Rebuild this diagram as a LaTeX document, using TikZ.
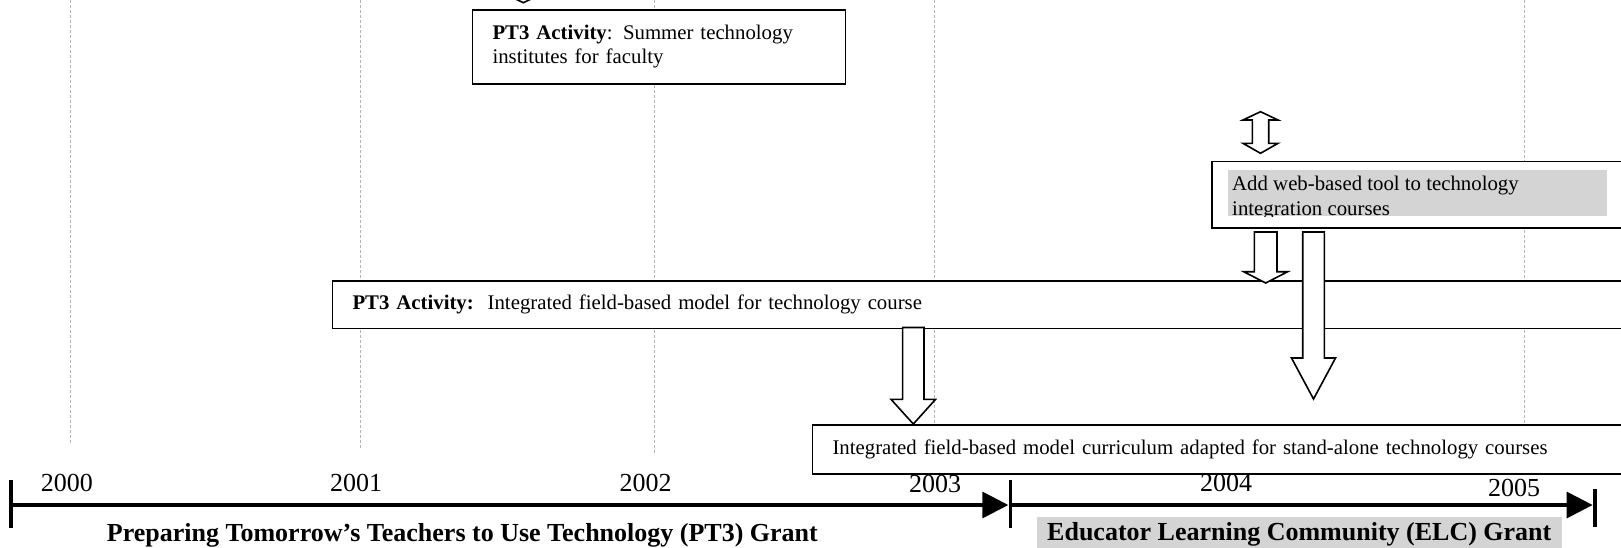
\documentclass[tikz,border=0pt]{standalone}
\usepackage{fontspec}
\setmainfont{Liberation Serif}
\usepackage{xcolor}
\usepackage{tikz}
\usetikzlibrary{arrows.meta,positioning,calc}

\colorlet{hilite}{black!17}
\tikzset{
  gridline/.style={gray!60, line width=0.9pt, dash pattern=on 3pt off 2pt},
  actbox/.style={draw, fill=white, line width=1.6pt, anchor=north west, align=left, inner xsep=20pt, font=\fontsize{20.8}{24}\selectfont},
  blockarrow/.style={draw, fill=white, line width=1.6pt, line join=miter},
  yearlbl/.style={anchor=base west, inner sep=0pt, font=\fontsize{26}{28}\selectfont},
  grantlbl/.style={anchor=base west, inner sep=0pt, font=\fontsize{26}{28}\selectfont\bfseries},
  axis/.style={line width=3.4pt, -{Triangle[length=26pt,width=26pt]}},
  tickbar/.style={line width=3.4pt},
}
% #1 top, #2 tip, #3 half shaft, #4 half head, #5 head length
\newcommand{\blockdown}[5]{%
  \draw[blockarrow] ($(#1)+(-#3,0)$) -- ($(#2)+(-#3,-#5)$) -- ($(#2)+(-#4,-#5)$) -- (#2)
    -- ($(#2)+(#4,-#5)$) -- ($(#2)+(#3,-#5)$) -- ($(#1)+(#3,0)$) -- cycle;}

\begin{document}
\begin{tikzpicture}[x=1pt,y=-1pt]
    \useasboundingbox (0,0) rectangle (1621,547);

    % Year grid
    \foreach \gx/\gy in {70/445, 360/450, 654/455, 934/424, 1524/423}
        \draw[gridline] (\gx,0) -- (\gx,\gy);

    % Activities
    \node[actbox, text width=333pt, minimum height=73.7pt] (summer) at (471.7,9.3)
        {\textbf{PT3 Activity}: Summer technology\\institutes for faculty};
    \node[actbox, minimum width=430pt, minimum height=66.6pt] (add) at (1211,160.7) {};
    \node[actbox, text width=1300pt, minimum height=47.5pt] (pt3field) at (331.7,280)
        {\textbf{PT3 Activity:}\ \ Integrated field-based model for technology course};
    \node[actbox, text width=820pt, minimum height=49.3pt] (adapted) at (811.7,424)
        {Integrated field-based model curriculum adapted for stand-alone technology courses};

    % Highlighted text of the web tool box
    \begin{scope}
        \clip (1228,170) rectangle (1607,216);
        \fill[hilite] (1228,170) rectangle (1607,216);
        \node[anchor=north west, align=left, inner sep=0pt, font=\fontsize{20.8}{25}\selectfont] (addtxt) at (1232,176)
            {Add web-based tool to technology\\integration courses};
    \end{scope}

    % Block arrows
    \coordinate (stub top) at (523.3,-20);
    \coordinate (stub tip) at (523.3,2.7);
    \blockdown{stub top}{stub tip}{8.2}{17.5}{8.3}

    \coordinate (dbl top) at (1260.5,111.7);
    \coordinate (dbl bot) at (1260.5,153.3);
    \draw[blockarrow] (dbl top) -- ++(17.5,8.3) -- ++(-9.3,0) -- ++(0,23.3) -- ++(9.3,0) -- (dbl bot)
        -- ++(-17.5,-10) -- ++(9.3,0) -- ++(0,-23.3) -- ++(-9.3,0) -- cycle;

    \coordinate (web top) at (1265.7,232);
    \coordinate (web tip) at (1265.7,283);
    \blockdown{web top}{web tip}{11.3}{22}{11.3}

    \coordinate (long top) at (1313.5,232);
    \coordinate (long tip) at (1313.5,399);
    \blockdown{long top}{long tip}{10.8}{22}{41}

    \coordinate (field top) at (913.3,327.5);
    \coordinate (field tip) at (field top |- adapted.north);
    \blockdown{field top}{field tip}{10.7}{22.3}{24.7}

    % Time line
    \coordinate (t0) at (11,505);
    \coordinate (t1) at (1010.7,505);
    \coordinate (t2) at (1595,505);
    \draw[axis] (t0) -- ([xshift=-2.4pt]t1);
    \draw[axis] (t1) -- ([xshift=-2.4pt]t2);
    \draw[tickbar] ($(t0)+(0,-25)$) -- ($(t0)+(0,22.7)$);
    \draw[tickbar] ($(t1)+(0,-25)$) -- ($(t1)+(0,22.7)$);
    \draw[tickbar] ($(t2)+(0,-15.7)$) -- ($(t2)+(0,21.7)$);

    \foreach \yr/\yx/\yb in {2000/40.7/491.7, 2001/330/491.7, 2002/619.5/491.7, 2003/909/492.3, 2004/1200/491.7, 2005/1488/496.7}
        \node[yearlbl] (y\yr) at (\yx,\yb) {\yr};

    % Grants
    \node[grantlbl] (pt3grant) at (106.7,541) {Preparing Tomorrow’s Teachers to Use Technology (PT3) Grant};
    \node[grantlbl, fill=hilite, inner xsep=10.3pt, inner ysep=5.6pt, text height=17.7pt] (elcgrant) at (1036.7,540)
        {Educator Learning Community (ELC) Grant};
\end{tikzpicture}
\end{document}
